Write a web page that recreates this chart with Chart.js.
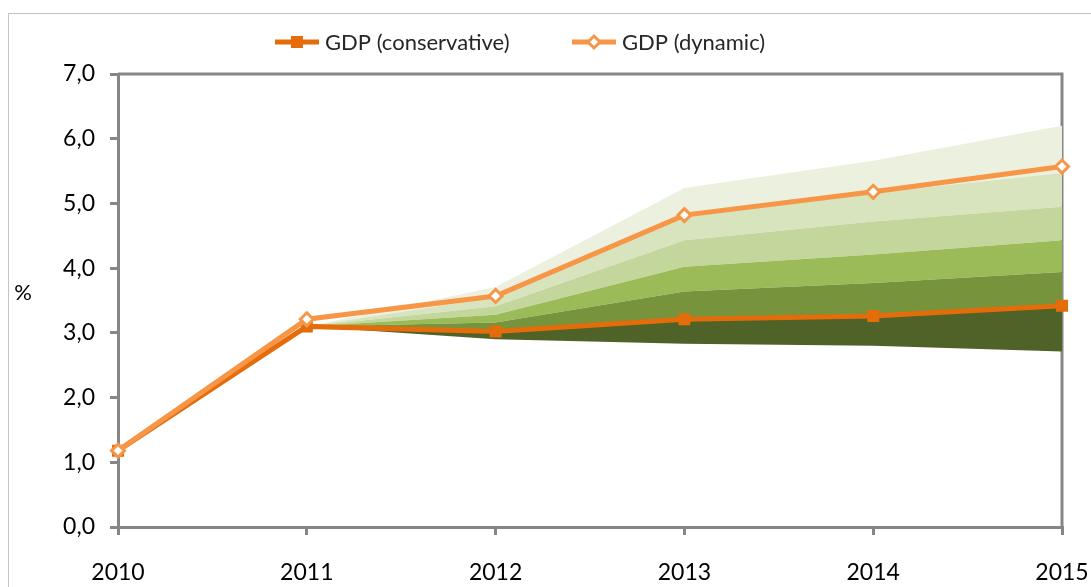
<!DOCTYPE html>
<html>
<head>
<meta charset="utf-8">
<script src="https://cdn.jsdelivr.net/npm/chart.js@4/dist/chart.umd.min.js"></script>
<style>
  html, body { margin: 0; padding: 0; background: #fff; }
  #wrap { width: 1091px; height: 587px; }
</style>
</head>
<body>
<div id="wrap"><canvas id="gdpChart" width="1091" height="587"></canvas></div>
<script>
// Données
const years = ['2010', '2011', '2012', '2013', '2014', '2015'];
const gdpConservative = [1.18, 3.10, 3.02, 3.21, 3.26, 3.42];
const gdpDynamic = [1.18, 3.21, 3.57, 4.82, 5.18, 5.57];

// Bornes de l'éventail (du bas vers le haut)
const fanBottom = [null, 3.10, 2.90, 2.83, 2.80, 2.71];
const fanBand1 = [null, 3.10, 3.02, 3.21, 3.26, 3.42];
const fanBand2 = [null, 3.10, 3.16, 3.64, 3.77, 3.94];
const fanBand3 = [null, 3.10, 3.28, 4.02, 4.21, 4.43];
const fanBand4 = [null, 3.10, 3.41, 4.43, 4.72, 4.95];
const fanBand5 = [null, 3.10, 3.55, 4.85, 5.16, 5.47];
const fanTop = [null, 3.10, 3.71, 5.24, 5.66, 6.20];

const yTicks = [0, 1, 2, 3, 4, 5, 6, 7];

const fanColors = ['#4F6228', '#77933C', '#9BBB59', '#C3D69B', '#D7E4BD', '#EBF0DF'];
const axisColor = '#868686';
const font = 'Lato, "Liberation Sans", sans-serif';

function band(data, fill, color) {
    return {
        data: data,
        fill: fill,
        backgroundColor: color,
        borderWidth: 0,
        pointRadius: 0,
        tension: 0,
        order: 2
    };
}

// Légende, titre de l'axe Y, cadres
const decorations = {
    id: 'decorations',
    beforeDraw(chart) {
        const ctx = chart.ctx;
        ctx.save();
        ctx.strokeStyle = '#C4C4C4';
        ctx.lineWidth = 1;
        ctx.strokeRect(8.5, 13.5, 2000, 2000);
        ctx.restore();
    },
    beforeDatasetsDraw(chart) {
        const { ctx, chartArea } = chart;
        ctx.save();
        ctx.strokeStyle = axisColor;
        ctx.lineWidth = 3;
        ctx.beginPath();
        ctx.moveTo(chartArea.left, chartArea.top);
        ctx.lineTo(chartArea.right, chartArea.top);
        ctx.lineTo(chartArea.right, chartArea.bottom);
        ctx.stroke();
        ctx.restore();
    },
    afterDraw(chart) {
        const ctx = chart.ctx;
        ctx.save();
        ctx.fillStyle = '#000';
        ctx.font = '22px ' + font;
        ctx.textAlign = 'center';
        ctx.textBaseline = 'middle';
        ctx.fillText('%', 23, 293);

        const items = [
            { label: 'GDP (conservative)', color: '#E46C0A', x: 275, style: 'rect' },
            { label: 'GDP (dynamic)', color: '#F79646', x: 572, style: 'diamond' }
        ];
        const y = 42;
        items.forEach(item => {
            ctx.strokeStyle = item.color;
            ctx.lineWidth = 5;
            ctx.beginPath();
            ctx.moveTo(item.x, y);
            ctx.lineTo(item.x + 44, y);
            ctx.stroke();
            const cx = item.x + 22;
            if (item.style === 'rect') {
                ctx.fillStyle = item.color;
                ctx.fillRect(cx - 6, y - 6, 12, 12);
            } else {
                ctx.fillStyle = '#fff';
                ctx.lineWidth = 3;
                ctx.beginPath();
                ctx.moveTo(cx - 6, y);
                ctx.lineTo(cx, y - 6);
                ctx.lineTo(cx + 6, y);
                ctx.lineTo(cx, y + 6);
                ctx.closePath();
                ctx.fill();
                ctx.stroke();
            }
            ctx.fillStyle = '#262626';
            ctx.font = '22px ' + font;
            ctx.textAlign = 'left';
            ctx.fillText(item.label, item.x + 50, y + 1);
        });
        ctx.restore();
    }
};

new Chart(document.getElementById('gdpChart'), {
    type: 'line',
    data: {
        labels: years,
        datasets: [
            {
                label: 'GDP (dynamic)',
                data: gdpDynamic,
                borderColor: '#F79646',
                backgroundColor: '#FFFFFF',
                borderWidth: 5,
                pointStyle: 'rectRot',
                pointRadius: 6.5,
                pointBorderWidth: 3,
                pointBorderColor: '#F79646',
                pointBackgroundColor: '#FFFFFF',
                fill: false,
                tension: 0,
                order: 0
            },
            {
                label: 'GDP (conservative)',
                data: gdpConservative,
                borderColor: '#E46C0A',
                backgroundColor: '#E46C0A',
                borderWidth: 5,
                pointStyle: 'rect',
                pointRadius: 8.5,
                pointBorderWidth: 0,
                pointBackgroundColor: '#E46C0A',
                fill: false,
                tension: 0,
                order: 1
            },
            band(fanBottom, false, 'rgba(0,0,0,0)'),
            band(fanBand1, '-1', fanColors[0]),
            band(fanBand2, '-1', fanColors[1]),
            band(fanBand3, '-1', fanColors[2]),
            band(fanBand4, '-1', fanColors[3]),
            band(fanBand5, '-1', fanColors[4]),
            band(fanTop, '-1', fanColors[5])
        ]
    },
    options: {
        responsive: false,
        animation: false,
        layout: {
            padding: { top: 74, right: 29, left: 0, bottom: 0 }
        },
        scales: {
            x: {
                offset: false,
                afterFit(scale) {
                    scale.height = 60;
                    scale.paddingLeft = 0;
                    scale.paddingRight = 0;
                },
                grid: {
                    drawOnChartArea: false,
                    drawTicks: true,
                    tickLength: 8,
                    color: axisColor,
                    lineWidth: 3,
                    offset: false
                },
                border: { display: true, color: axisColor, width: 3 },
                ticks: {
                    color: '#000',
                    padding: 24,
                    maxRotation: 0,
                    font: { family: font, size: 23 }
                }
            },
            y: {
                min: 0,
                max: 7,
                afterFit(scale) { scale.width = 118; },
                afterBuildTicks(scale) {
                    scale.ticks = yTicks.map(v => ({ value: v }));
                },
                grid: {
                    drawOnChartArea: false,
                    drawTicks: true,
                    tickLength: 8,
                    color: axisColor,
                    lineWidth: 3
                },
                border: { display: true, color: axisColor, width: 3 },
                ticks: {
                    color: '#000',
                    padding: 15,
                    font: { family: font, size: 23 },
                    callback: value => value.toFixed(1).replace('.', ',')
                }
            }
        },
        plugins: {
            legend: { display: false },
            tooltip: { enabled: false },
            filler: { propagate: false }
        }
    },
    plugins: [decorations]
});
</script>
</body>
</html>
